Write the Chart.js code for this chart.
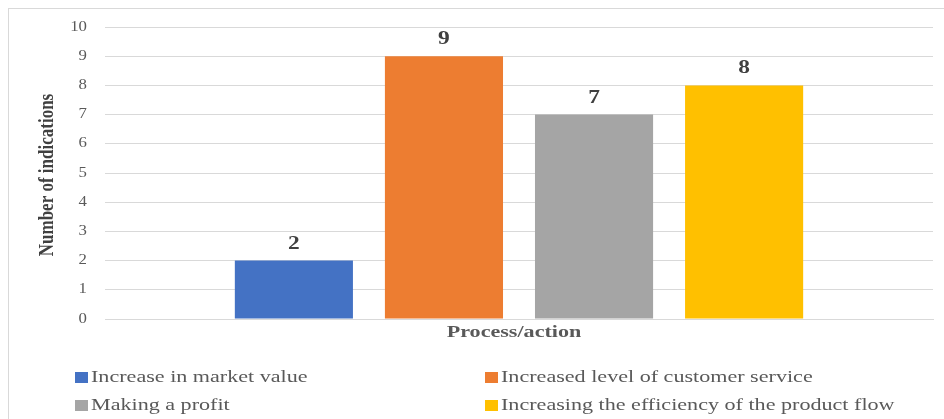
<!DOCTYPE html>
<html>
<head>
<meta charset="utf-8">
<script src="https://cdn.jsdelivr.net/npm/chart.js@4/dist/chart.umd.min.js"></script>
<style>
  html, body { margin: 0; padding: 0; background: #fff; }
  #wrap { position: relative; width: 944px; height: 419px; }
</style>
</head>
<body>
<div id="wrap"><canvas id="c" width="944" height="419"></canvas></div>
<script>
// Survey results: number of indications per process/action
const categories = [''];
const seriesNames = [
  'Increase in market value',
  'Increased level of customer service',
  'Making a profit',
  'Increasing the efficiency of the product flow'
];
const seriesValues = [2, 9, 7, 8];
const seriesColors = ['#4472C4', '#ED7D31', '#A5A5A5', '#FFC000'];
const yTicks = [0, 1, 2, 3, 4, 5, 6, 7, 8, 9, 10];
const yTitle = 'Number of indications';
const xTitle = 'Process/action';

const SERIF = '"Liberation Serif", "Times New Roman", serif';
const WIDE = 1.3;   // horizontal stretch of the text face

const datasets = seriesNames.map((name, i) => ({
  label: name,
  data: [seriesValues[i]],
  backgroundColor: seriesColors[i],
  borderWidth: 0,
  categoryPercentage: 0.725,
  barPercentage: 0.787
}));

// Draw text with a widened face
function wideText(ctx, text, x, y, align, sx) {
  ctx.save();
  ctx.translate(x, y);
  ctx.scale(sx, 1);
  ctx.textAlign = align;
  ctx.fillText(text, 0, 0);
  ctx.restore();
}

// Outer frame around the whole chart
const framePlugin = {
  id: 'frame',
  beforeDraw(chart) {
    const ctx = chart.ctx;
    ctx.save();
    ctx.strokeStyle = '#d9d9d9';
    ctx.lineWidth = 1;
    ctx.strokeRect(8.5, 8.5, chart.width + 10, chart.height + 10);
    ctx.restore();
  }
};

// Axis tick labels and titles
const axisText = {
  id: 'axisText',
  afterDraw(chart) {
    const ctx = chart.ctx;
    const y = chart.scales.y;
    const area = chart.chartArea;
    ctx.save();
    ctx.textBaseline = 'middle';
    ctx.fillStyle = '#595959';
    ctx.font = '14px ' + SERIF;
    yTicks.forEach(v => {
      wideText(ctx, String(v), 87, y.getPixelForValue(v), 'right', 1.2);
    });

    ctx.font = 'bold 17px ' + SERIF;
    ctx.fillStyle = '#595959';
    wideText(ctx, xTitle, (area.left + area.right) / 2 - 5, area.bottom + 14, 'center', WIDE);

    ctx.fillStyle = '#404040';
    ctx.save();
    ctx.translate(48, (area.top + area.bottom) / 2 + 2);
    ctx.rotate(-Math.PI / 2);
    ctx.scale(1, 1.2);
    ctx.textAlign = 'center';
    ctx.fillText(yTitle, 0, 0);
    ctx.restore();
    ctx.restore();
  }
};

// Value labels above each bar
const valueLabels = {
  id: 'valueLabels',
  afterDatasetsDraw(chart) {
    const ctx = chart.ctx;
    ctx.save();
    ctx.font = 'bold 18px ' + SERIF;
    ctx.fillStyle = '#404040';
    ctx.textBaseline = 'alphabetic';
    chart.data.datasets.forEach((ds, di) => {
      chart.getDatasetMeta(di).data.forEach((bar, j) => {
        wideText(ctx, String(ds.data[j]), bar.x, bar.y - 12, 'center', WIDE);
      });
    });
    ctx.restore();
  }
};

// Two-column legend under the axis title
const gridLegend = {
  id: 'gridLegend',
  afterDraw(chart) {
    const ctx = chart.ctx;
    const cols = [75, 485];
    const rows = [377, 405];
    ctx.save();
    ctx.font = '17px ' + SERIF;
    ctx.textBaseline = 'middle';
    chart.data.datasets.forEach((ds, i) => {
      const x = cols[i % 2];
      const y = rows[Math.floor(i / 2)];
      ctx.fillStyle = ds.backgroundColor;
      ctx.fillRect(x, y - 5, 13, 11);
      ctx.fillStyle = '#595959';
      wideText(ctx, ds.label, x + 16, y + 1, 'left', WIDE);
    });
    ctx.restore();
  }
};

new Chart(document.getElementById('c'), {
  type: 'bar',
  data: { labels: categories, datasets },
  options: {
    responsive: false,
    animation: false,
    layout: { padding: { left: 34, right: 11, top: 27, bottom: 75 } },
    plugins: {
      legend: { display: false },
      tooltip: { enabled: false }
    },
    scales: {
      x: {
        grid: { display: false, drawTicks: false },
        border: { display: true, color: '#d9d9d9' },
        ticks: { display: false },
        title: { display: false },
        afterFit(scale) { scale.height = 25; }
      },
      y: {
        min: 0,
        max: 10,
        afterBuildTicks(scale) { scale.ticks = yTicks.map(v => ({ value: v })); },
        grid: { color: '#d9d9d9', drawTicks: false },
        border: { display: false },
        ticks: { display: false },
        title: { display: false },
        afterFit(scale) { scale.width = 71; }
      }
    }
  },
  plugins: [framePlugin, axisText, valueLabels, gridLegend]
});
</script>
</body>
</html>
